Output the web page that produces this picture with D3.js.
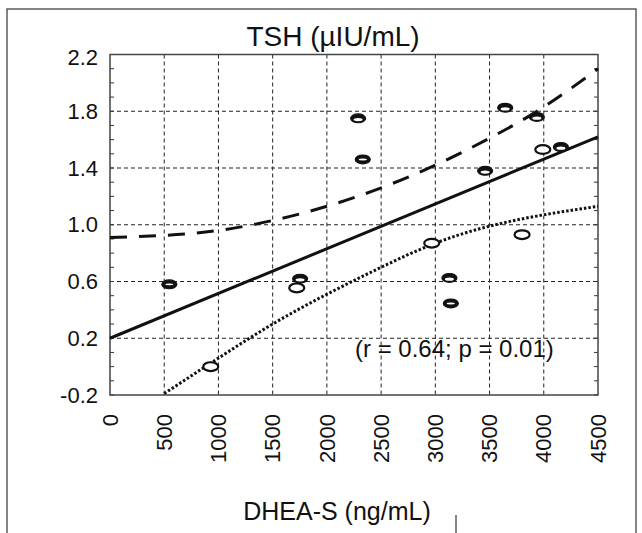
<!DOCTYPE html>
<html>
<head>
<meta charset="utf-8">
<script src="https://cdn.jsdelivr.net/npm/d3@7"></script>
<style>
  body { margin: 0; background: #fff; }
  text { font-family: "Liberation Sans", Arial, sans-serif; fill: #111; }
</style>
</head>
<body>
<svg id="chart"></svg>
<script>
// scatter points: DHEA-S vs TSH
var dhea = [547, 929, 1753, 1722, 2288, 2331, 2967, 3130, 3143, 3459, 3644, 3936, 3991, 4158, 3800];
var tsh = [0.58, 0.00, 0.62, 0.555, 1.75, 1.46, 0.87, 0.625, 0.445, 1.38, 1.825, 1.76, 1.53, 1.548, 0.93];
var symbolType = ["filled", "hollow", "half", "hollow", "half", "filled", "hollow", "half", "filled", "half", "half", "half", "hollow", "half", "hollow"];

// regression line and confidence band
var fitX = [0, 4500];
var fitY = [0.2, 1.62];
var upperX = [0, 500, 1000, 1500, 2000, 2500, 3000, 3500, 4000, 4500];
var upperY = [0.91, 0.925, 0.96, 1.03, 1.13, 1.26, 1.42, 1.61, 1.83, 2.10];
var lowerX = [500, 1000, 1500, 2000, 2500, 3000, 3500, 4000, 4500];
var lowerY = [-0.19, 0.06, 0.30, 0.51, 0.70, 0.87, 0.99, 1.07, 1.13];

var xTicks = [0, 500, 1000, 1500, 2000, 2500, 3000, 3500, 4000, 4500];
var yTicks = [-0.2, 0.2, 0.6, 1.0, 1.4, 1.8, 2.2];
var yMinor = d3.range(-0.2, 2.2001, 0.1);

var W = 642, H = 533;
var svg = d3.select("#chart").attr("width", W).attr("height", H);

var x = d3.scaleLinear().domain([0, 4500]).range([110, 598]);
var y = d3.scaleLinear().domain([-0.2, 2.2]).range([395, 54.5]);

// outer figure border
svg.append("rect")
  .attr("x", 7).attr("y", 9)
  .attr("width", 629).attr("height", 560)
  .attr("fill", "none").attr("stroke", "#333").attr("stroke-width", 1.2);

// grid
svg.append("g").selectAll("line")
  .data(xTicks.slice(1, -1))
  .enter().append("line")
    .attr("x1", function(d) { return x(d); })
    .attr("x2", function(d) { return x(d); })
    .attr("y1", y(2.2)).attr("y2", y(-0.2))
    .attr("stroke", "#222").attr("stroke-width", 1)
    .attr("stroke-dasharray", "4,3");

svg.append("g").selectAll("line")
  .data(yTicks.slice(1, -1))
  .enter().append("line")
    .attr("y1", function(d) { return y(d); })
    .attr("y2", function(d) { return y(d); })
    .attr("x1", x(0)).attr("x2", x(4500))
    .attr("stroke", "#222").attr("stroke-width", 1)
    .attr("stroke-dasharray", "4,3");

// minor ticks left and right
var minor = svg.append("g");
minor.selectAll(".ml").data(yMinor).enter().append("line")
  .attr("x1", x(0)).attr("x2", x(0) + 4)
  .attr("y1", function(d) { return y(d); }).attr("y2", function(d) { return y(d); })
  .attr("stroke", "#333").attr("stroke-width", 1);
minor.selectAll(".mr").data(yMinor).enter().append("line")
  .attr("x1", x(4500)).attr("x2", x(4500) - 4)
  .attr("y1", function(d) { return y(d); }).attr("y2", function(d) { return y(d); })
  .attr("stroke", "#333").attr("stroke-width", 1);

// plot frame
svg.append("rect")
  .attr("x", x(0)).attr("y", y(2.2))
  .attr("width", x(4500) - x(0)).attr("height", y(-0.2) - y(2.2))
  .attr("fill", "none").attr("stroke", "#444").attr("stroke-width", 1.5);

// y tick labels
svg.append("g").selectAll("text")
  .data(yTicks)
  .enter().append("text")
    .attr("x", 98)
    .attr("y", function(d) { return y(d) + (d == 2.2 ? 3 : 0); })
    .attr("dy", "0.35em")
    .attr("text-anchor", "end")
    .style("font-size", "22px")
    .text(function(d) { return d.toFixed(1); });

// x tick labels, rotated
svg.append("g").selectAll("text")
  .data(xTicks)
  .enter().append("text")
    .attr("transform", function(d) { return "translate(" + x(d) + ",414) rotate(-90)"; })
    .attr("dy", "0.35em")
    .attr("text-anchor", "end")
    .style("font-size", "22px")
    .text(function(d) { return d; });

// lines
var line = d3.line()
  .x(function(d) { return x(d[0]); })
  .y(function(d) { return y(d[1]); });

svg.append("path")
  .attr("d", line(d3.zip(fitX, fitY)))
  .attr("fill", "none").attr("stroke", "#111").attr("stroke-width", 3);

svg.append("path")
  .attr("d", line.curve(d3.curveNatural)(d3.zip(upperX, upperY)))
  .attr("fill", "none").attr("stroke", "#111").attr("stroke-width", 3)
  .attr("stroke-dasharray", "17,12");

svg.append("path")
  .attr("d", line.curve(d3.curveNatural)(d3.zip(lowerX, lowerY)))
  .attr("fill", "none").attr("stroke", "#111").attr("stroke-width", 3)
  .attr("stroke-dasharray", "2.5,2");

// markers
var pts = svg.append("g").selectAll("g")
  .data(d3.range(dhea.length))
  .enter().append("g")
    .attr("transform", function(i) { return "translate(" + x(dhea[i]) + "," + y(tsh[i]) + ")"; });

pts.append("ellipse")
  .attr("rx", 7.5).attr("ry", 4.4)
  .attr("fill", function(i) { return symbolType[i] == "hollow" ? "#fff" : "#111"; })
  .attr("stroke", "#111")
  .attr("stroke-width", function(i) { return symbolType[i] == "hollow" ? 2.2 : 1.2; });

pts.filter(function(i) { return symbolType[i] != "hollow"; })
  .append("ellipse")
    .attr("cy", function(i) { return symbolType[i] == "half" ? 1.2 : 0; })
    .attr("rx", function(i) { return symbolType[i] == "half" ? 4.5 : 4; })
    .attr("ry", function(i) { return symbolType[i] == "half" ? 1.6 : 0.9; })
    .attr("fill", "#fff");

// titles and annotation
svg.append("text")
  .attr("x", 333).attr("y", 46)
  .attr("text-anchor", "middle")
  .style("font-size", "28px")
  .text("TSH (µIU/mL)");

svg.append("text")
  .attr("x", 337).attr("y", 520)
  .attr("text-anchor", "middle")
  .style("font-size", "25px")
  .text("DHEA-S (ng/mL)");

svg.append("text")
  .attr("x", 355).attr("y", 357)
  .style("font-size", "24px")
  .text("(r = 0.64; p = 0.01)");

// short rule at bottom
svg.append("line")
  .attr("x1", 456).attr("x2", 456).attr("y1", 515).attr("y2", 533)
  .attr("stroke", "#333").attr("stroke-width", 1.2);
</script>
</body>
</html>
